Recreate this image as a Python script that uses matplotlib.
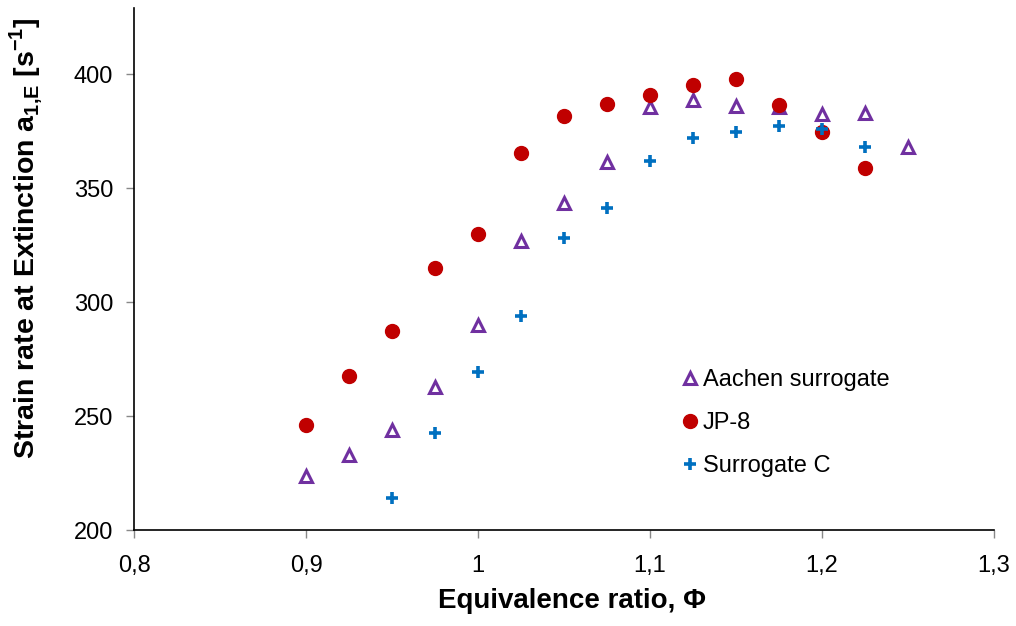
import numpy as np
import matplotlib
matplotlib.use("Agg")
import matplotlib.pyplot as plt
import matplotlib.ticker as ticker

plt.rcParams['font.family'] = ['Liberation Sans', 'DejaVu Sans']
plt.rcParams['mathtext.fontset'] = 'custom'
plt.rcParams['mathtext.bf'] = 'Liberation Sans:bold'
plt.rcParams['mathtext.rm'] = 'Liberation Sans:bold'

# equivalence ratio and extinction strain rates [1/s]
phi_aachen = [0.9, 0.925, 0.95, 0.975, 1.0, 1.025, 1.05, 1.075, 1.1, 1.125, 1.15, 1.175, 1.2, 1.225, 1.25]
a_aachen = [224, 233, 244, 263, 290, 327, 343.5, 361.5, 385.5, 388.5, 386, 385.5, 382.5, 383, 368]

phi_jp8 = [0.9, 0.925, 0.95, 0.975, 1.0, 1.025, 1.05, 1.075, 1.1, 1.125, 1.15, 1.175, 1.2, 1.225]
a_jp8 = [246, 267.5, 287.5, 315, 330, 365.5, 381.5, 387, 391, 395.5, 398, 386.5, 374.5, 359]

phi_surrC = [0.95, 0.975, 1.0, 1.025, 1.05, 1.075, 1.1, 1.125, 1.15, 1.175, 1.2, 1.225]
a_surrC = [214, 242.5, 269.5, 294, 328, 341.5, 362, 372, 374.5, 377.5, 376, 368]

fig = plt.figure(figsize=(10.16, 6.26), dpi=100)
ax = fig.add_axes([0.132, 0.153, 0.846, 0.834])

ax.plot(phi_aachen, a_aachen, linestyle='none', marker='^', markersize=9,
        markerfacecolor='white', markeredgecolor='#7030A0', markeredgewidth=2.2,
        label='Aachen surrogate')
ax.plot(phi_jp8, a_jp8, linestyle='none', marker='o', markersize=10,
        color='#C00000', label='JP-8')
ax.plot(phi_surrC, a_surrC, linestyle='none', marker='+', markersize=9,
        markeredgewidth=2.6, color='#0070C0', label='Surrogate C')

ax.set_xlim(0.8, 1.3)
ax.set_ylim(200, 429)
ax.xaxis.set_major_locator(ticker.MultipleLocator(0.1))
ax.yaxis.set_major_locator(ticker.MultipleLocator(50))
ax.xaxis.set_major_formatter(ticker.FuncFormatter(
    lambda v, p: ('%g' % round(v, 2)).replace('.', ',')))

for s in ['top', 'right']:
    ax.spines[s].set_visible(False)
for s in ['left', 'bottom']:
    ax.spines[s].set_linewidth(1.2)
ax.tick_params(direction='out', length=6, width=1, color='#888888',
               labelsize=17, pad=9)
ax.tick_params(axis='x', pad=12)

ax.set_xlabel('Equivalence ratio, Φ', fontsize=20, fontweight='bold')
ax.set_ylabel(r'Strain rate at Extinction a$_\mathbf{1{,}E}$ [s$^\mathbf{-1}$]',
              fontsize=20.5, fontweight='bold')
ax.xaxis.set_label_coords(0.509, -0.111)
ax.yaxis.set_label_coords(-0.104, 0.559)

ax.legend(loc='upper left', bbox_to_anchor=(0.664, 0.425), frameon=False,
          fontsize=17, handlelength=0.5, handletextpad=0.3, labelspacing=0.88,
          borderaxespad=0, bbox_transform=fig.transFigure)

fig.savefig('out.png', dpi=100)
